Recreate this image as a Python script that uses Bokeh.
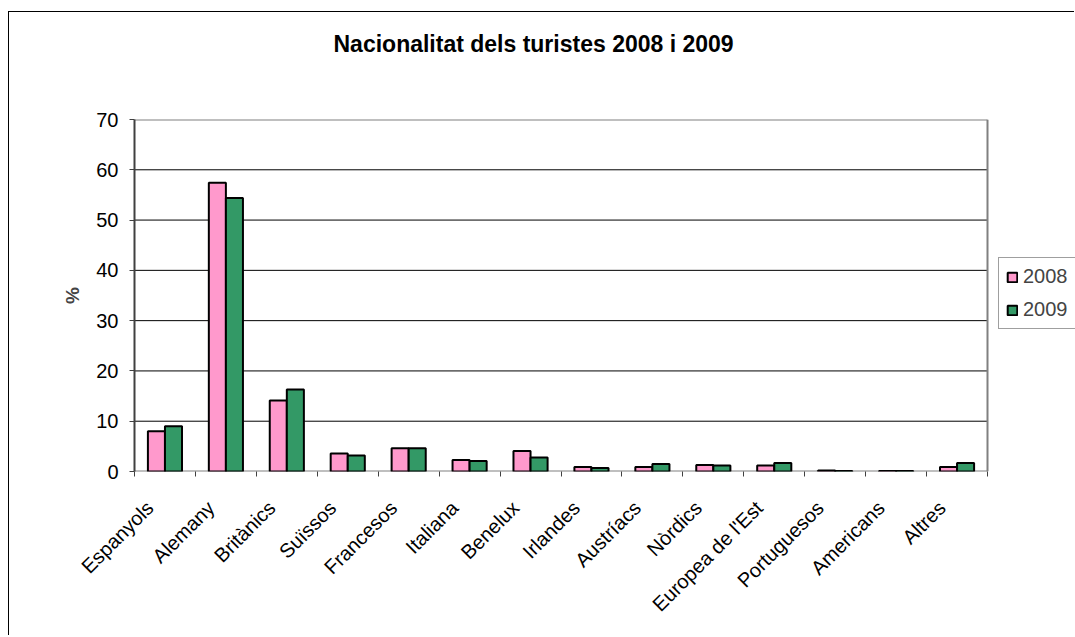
from bokeh.plotting import figure
from bokeh.models import (ColumnDataSource, FixedTicker, Range1d, Legend, LegendItem, Title)
from bokeh.embed import file_html
from bokeh.resources import INLINE
import math

categories = ["Espanyols", "Alemany", "Britànics", "Suïssos", "Francesos", "Italiana",
              "Benelux", "Irlandes", "Austríacs", "Nòrdics", "Europea de l'Est",
              "Portuguesos", "Americans", "Altres"]
values_2008 = [8.0, 57.4, 14.1, 3.6, 4.6, 2.3, 4.1, 0.9, 0.9, 1.3, 1.2, 0.2, 0.1, 0.9]
values_2009 = [9.0, 54.4, 16.3, 3.2, 4.6, 2.1, 2.8, 0.7, 1.5, 1.2, 1.7, 0.1, 0.1, 1.7]
y_ticks = [0, 10, 20, 30, 40, 50, 60, 70]
title_text = "Nacionalitat dels turistes 2008 i 2009"
y_label = "%"
series_names = ["2008", "2009"]
colors = ["#FF99CC", "#339966"]

FONT = "Liberation Sans"
n = len(categories)
centers = [i + 0.5 for i in range(n)]
bar_w = 0.28
y_min, y_max = y_ticks[0], y_ticks[-1]

src = ColumnDataSource(dict(
    x08=[c - bar_w / 2 for c in centers],
    x09=[c + bar_w / 2 for c in centers],
    v08=values_2008, v09=values_2009))

# pixel layout (page coords): plot area 134..987 x, 119..471 y; figure starts at (9,12)
W, H = 1066, 624
FL, FT, FB = 125, 107, 459
plot_px = 987 - 134
frame_px = (9 + W) - 134
x_end = n * frame_px / plot_px
label_shift = 15 * n / plot_px   # rotated labels end a little left of the category centre

p = figure(width=W, height=H, output_backend="svg", toolbar_location=None,
           x_range=Range1d(0, x_end), y_range=Range1d(y_min, y_max),
           min_border_left=FL, min_border_right=0,
           min_border_top=FT, min_border_bottom=H - FB)
p.styles = {"margin-left": "8px", "margin-top": "11px",
            "border-left": "1px solid black", "border-top": "1px solid black"}
p.background_fill_color = "white"
p.border_fill_color = "white"
p.outline_line_color = None

# grid lines & plot-area border drawn as segments over the category span
p.xgrid.visible = False
p.ygrid.visible = False
inner = y_ticks[1:-1]
p.segment(x0=[0] * len(inner), x1=[n] * len(inner), y0=inner, y1=inner,
          line_color="black", line_width=1)
p.segment(x0=[0, n, 0], x1=[n, n, n], y0=[y_max, y_min, y_min], y1=[y_max, y_max, y_min],
          line_color="#808080", line_width=2)

r08 = p.vbar(x="x08", top="v08", width=bar_w, bottom=0, source=src,
             fill_color=colors[0], line_color="black", line_width=2)
r09 = p.vbar(x="x09", top="v09", width=bar_w, bottom=0, source=src,
             fill_color=colors[1], line_color="black", line_width=2)

# y axis
ya = p.yaxis[0]
ya.ticker = FixedTicker(ticks=y_ticks)
ya.axis_line_color = "#404040"
ya.axis_line_width = 2
ya.major_tick_out = 5
ya.major_tick_in = 0
ya.minor_tick_out = 0
ya.minor_tick_in = 0
ya.major_tick_line_color = "#404040"
ya.major_label_text_font = FONT
ya.major_label_text_font_size = "20px"
ya.major_label_text_color = "black"
ya.major_label_standoff = 11
ya.axis_label = y_label
ya.axis_label_text_font = FONT
ya.axis_label_text_font_size = "19px"
ya.axis_label_text_font_style = "bold"
ya.axis_label_standoff = 10

# x axis
label_pos = [c - label_shift for c in centers]
xa = p.xaxis[0]
xa.ticker = FixedTicker(ticks=label_pos, minor_ticks=list(range(n + 1)))
xa.major_label_overrides = {c: lab for c, lab in zip(label_pos, categories)}
xa.major_tick_out = 0
xa.major_tick_in = 0
xa.minor_tick_out = 5
xa.minor_tick_in = 0
xa.minor_tick_line_color = "#404040"
xa.axis_line_color = None
xa.major_label_orientation = math.pi / 4
xa.major_label_text_font = FONT
xa.major_label_text_font_size = "20px"
xa.major_label_text_color = "black"
xa.major_label_standoff = 28

# title (outermost) + spacer title between it and the plot area
p.title.text = title_text
p.title.align = "left"
p.title.offset = 199
p.title.standoff = 0
p.title.text_font = FONT
p.title.text_font_size = "23px"
p.title.text_font_style = "bold"
p.title.text_color = "black"
spacer = Title(text=" ", text_font_size="1px", standoff=60)
p.add_layout(spacer, "above")

legend = Legend(items=[LegendItem(label=series_names[0], renderers=[r08]),
                       LegendItem(label=series_names[1], renderers=[r09])],
                location=(998 - 134, 471 - 329), orientation="vertical",
                glyph_width=12, glyph_height=12,
                label_text_font=FONT, label_text_font_size="20px",
                label_standoff=5, spacing=10, padding=7, margin=0,
                border_line_color="#404040", border_line_width=1,
                background_fill_color="white")
p.add_layout(legend, "center")

open("out.html", "w").write(file_html(p, INLINE))
